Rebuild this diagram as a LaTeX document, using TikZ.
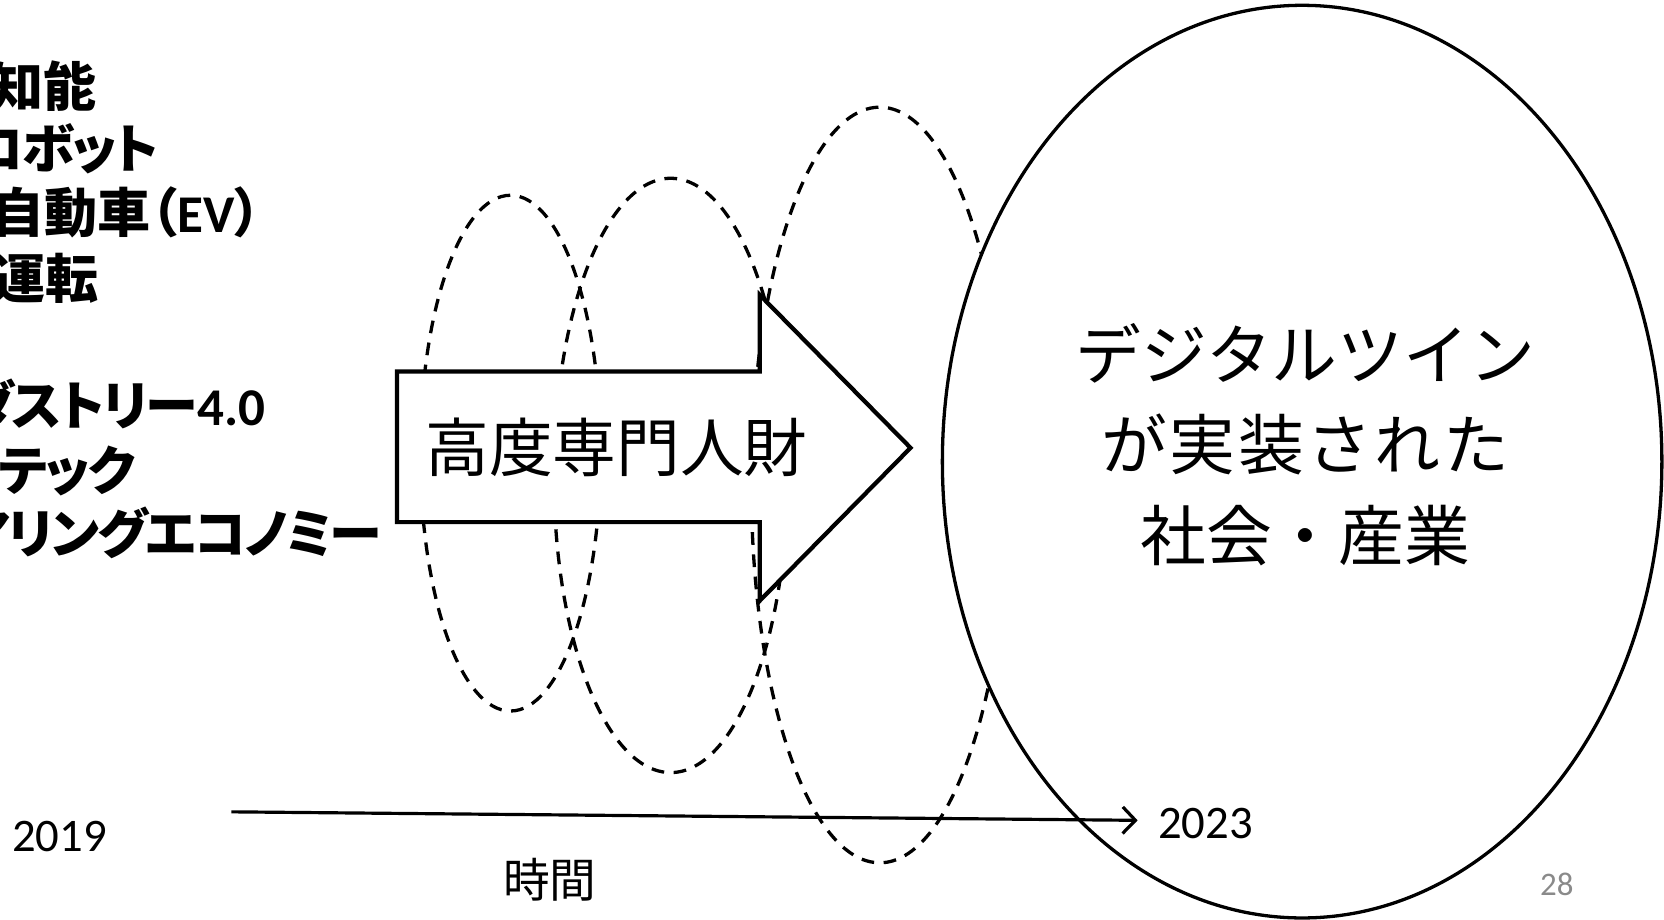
\documentclass[tikz,border=0pt]{standalone}
\usepackage{fontspec}
\setmainfont{Carlito}
\newfontfamily\jp{Noto Sans CJK JP}
\newfontfamily\jpp{Noto Sans CJK JP}[RawFeature=+palt, LetterSpace=-4]
\newfontfamily\jpw{Noto Sans CJK JP}[LetterSpace=4]
\usetikzlibrary{arrows.meta}
\definecolor{pagegray}{HTML}{8A8A8A}
\tikzset{
  dashring/.style={draw=black, line width=3.1pt, dash pattern=on 12pt off 9pt},
  listitem/.style={inner sep=0pt, font=\fontsize{50}{60}\selectfont\bfseries},
  plain/.style={inner sep=0pt},
}
\begin{document}
\begin{tikzpicture}[x=1pt,y=-1pt]
\useasboundingbox (0,0) rectangle (1568,866);
\clip (0,0) rectangle (1568,866);

% left list (cut at left edge)
\node[listitem, anchor=base east] (l1) at (91,100) {\jp 人工知能};
\node[listitem, anchor=base east] (l2) at (150,159) {\jpp ロボット};
\node[listitem, anchor=base west] (l3) at (-108,219) {{\jp 電気自動車}{\jpp （}{\bfseries EV}{\jpp ）}};
\node[listitem, anchor=base east] (l4) at (93,281) {\jp 自動運転};
\node[listitem, anchor=base east] (l5) at (250,401) {{\jpp インダストリー}{\bfseries 4.0}};
\node[listitem, anchor=base east] (l6) at (128,462) {\jpp フィンテック};
\node[listitem, anchor=base east] (l7) at (360,522) {\jpp シェアリングエコノミー};

% dashed ellipses
\draw[dashring] (481,427) ellipse [x radius=85pt, y radius=243pt];
\draw[dashring] (632,448) ellipse [x radius=110pt, y radius=280pt];
\draw[dashring] (829,457) ellipse [x radius=121pt, y radius=356pt];

% big circle
\draw[line width=3.1pt, fill=white] (1227,435) ellipse [x radius=339pt, y radius=430pt];
\node[plain, align=center, font=\jp\fontsize{62}{85}\selectfont] (goal) at (1230,419)
  {デジタルツイン\\{\jpw が実装された}\\社会・産業};

% big arrow
\draw[line width=4pt, fill=white, line join=miter]
  (374,350) -- (716,350) -- (716,278) -- (858,422) -- (716,566) -- (716,492) -- (374,492) -- cycle;
\node[plain, font=\jp\fontsize{60}{60}\selectfont] (talent) at (581,422) {高度専門人財};

% timeline
\coordinate (t1) at (218,765);
\coordinate (t2) at (1072,773);
\draw[line width=3pt, -{Straight Barb[length=12pt,width=25pt,line width=3pt]}] (t1) -- (t2);
\node[plain, anchor=base, font=\fontsize{44}{44}\selectfont] (y1) at (56,802) {2019};
\node[plain, anchor=base west, font=\fontsize{44}{44}\selectfont] (y2) at (1091,790) {2023};
\node[plain, anchor=base, font=\jp\fontsize{44}{44}\selectfont] (time) at (518,846) {時間};
\node[plain, anchor=base, text=pagegray, font=\fontsize{31}{31}\selectfont] (pg) at (1467,844) {28};
\end{tikzpicture}
\end{document}
